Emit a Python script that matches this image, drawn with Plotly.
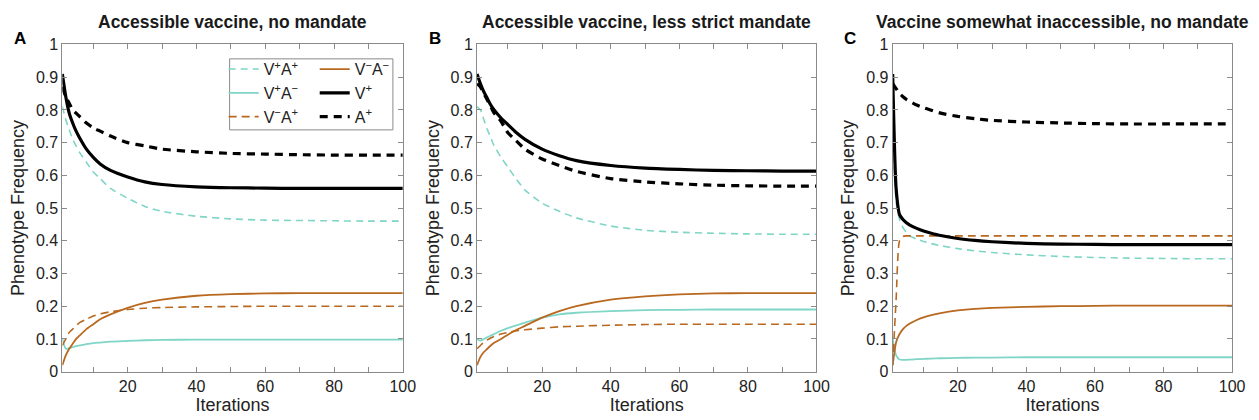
import plotly.graph_objects as go

iters = [1, 2, 3, 4, 5, 6, 8, 10, 12, 15, 20, 25, 30, 40, 50, 60, 70, 80, 90, 100]

# panel A: accessible vaccine, no mandate
a_vpap = [0.81, 0.77, 0.74, 0.71, 0.69, 0.67, 0.64, 0.61, 0.59, 0.56, 0.53, 0.505, 0.49, 0.475, 0.467, 0.463, 0.462, 0.461, 0.46, 0.46]
a_vpam = [0.10, 0.07, 0.072, 0.075, 0.078, 0.08, 0.084, 0.087, 0.089, 0.092, 0.094, 0.096, 0.097, 0.098, 0.098, 0.098, 0.098, 0.098, 0.098, 0.098]
a_vmap = [0.08, 0.10, 0.12, 0.13, 0.14, 0.15, 0.16, 0.17, 0.177, 0.183, 0.19, 0.194, 0.196, 0.198, 0.199, 0.2, 0.2, 0.2, 0.2, 0.2]
a_vmam = [0.02, 0.05, 0.07, 0.085, 0.10, 0.11, 0.13, 0.145, 0.16, 0.175, 0.195, 0.21, 0.22, 0.232, 0.237, 0.239, 0.24, 0.24, 0.24, 0.24]
a_vp = [0.91, 0.84, 0.79, 0.76, 0.735, 0.715, 0.68, 0.655, 0.635, 0.615, 0.595, 0.58, 0.572, 0.565, 0.562, 0.561, 0.56, 0.56, 0.56, 0.56]
a_ap = [0.87, 0.84, 0.82, 0.80, 0.79, 0.78, 0.76, 0.745, 0.735, 0.72, 0.70, 0.69, 0.68, 0.672, 0.667, 0.665, 0.663, 0.662, 0.662, 0.662]

# panel B: accessible vaccine, less strict mandate
b_vpap = [0.81, 0.80, 0.77, 0.74, 0.715, 0.69, 0.655, 0.625, 0.595, 0.555, 0.515, 0.49, 0.47, 0.445, 0.432, 0.426, 0.423, 0.421, 0.42, 0.42]
b_vpam = [0.10, 0.095, 0.10, 0.105, 0.11, 0.115, 0.125, 0.133, 0.14, 0.15, 0.165, 0.175, 0.18, 0.185, 0.188, 0.189, 0.19, 0.19, 0.19, 0.19]
b_vmap = [0.07, 0.08, 0.09, 0.097, 0.103, 0.108, 0.115, 0.12, 0.124, 0.128, 0.133, 0.137, 0.139, 0.142, 0.144, 0.145, 0.145, 0.145, 0.145, 0.145]
b_vmam = [0.02, 0.045, 0.06, 0.07, 0.08, 0.088, 0.10, 0.113, 0.125, 0.14, 0.165, 0.185, 0.2, 0.22, 0.23, 0.236, 0.239, 0.24, 0.24, 0.24]
b_vp = [0.91, 0.88, 0.855, 0.835, 0.815, 0.80, 0.775, 0.755, 0.735, 0.71, 0.68, 0.66, 0.645, 0.63, 0.622, 0.618, 0.615, 0.614, 0.613, 0.613]
b_ap = [0.88, 0.87, 0.85, 0.83, 0.81, 0.79, 0.765, 0.73, 0.71, 0.68, 0.65, 0.63, 0.612, 0.59, 0.58, 0.574, 0.57, 0.568, 0.567, 0.567]

# panel C: vaccine somewhat inaccessible, no mandate
c_vpap = [0.81, 0.52, 0.465, 0.44, 0.425, 0.415, 0.405, 0.398, 0.392, 0.385, 0.376, 0.369, 0.364, 0.357, 0.352, 0.349, 0.347, 0.346, 0.345, 0.345]
c_vpam = [0.10, 0.05, 0.037, 0.036, 0.036, 0.037, 0.038, 0.039, 0.04, 0.041, 0.042, 0.043, 0.043, 0.044, 0.044, 0.044, 0.044, 0.044, 0.044, 0.044]
c_vmap = [0.02, 0.22, 0.40, 0.413, 0.415, 0.415, 0.415, 0.415, 0.415, 0.415, 0.415, 0.415, 0.415, 0.415, 0.415, 0.415, 0.415, 0.415, 0.415, 0.415]
c_vmam = [0.02, 0.09, 0.115, 0.13, 0.14, 0.147, 0.158, 0.166, 0.172, 0.179, 0.187, 0.192, 0.195, 0.198, 0.2, 0.201, 0.202, 0.202, 0.202, 0.202]
c_vp = [0.91, 0.56, 0.48, 0.465, 0.455, 0.448, 0.438, 0.43, 0.424, 0.416, 0.407, 0.401, 0.397, 0.392, 0.39, 0.389, 0.388, 0.388, 0.388, 0.388]
c_ap = [0.88, 0.865, 0.85, 0.84, 0.832, 0.826, 0.815, 0.807, 0.80, 0.79, 0.78, 0.773, 0.768, 0.763, 0.76, 0.758, 0.757, 0.757, 0.757, 0.757]

titles = ['Accessible vaccine, no mandate',
          'Accessible vaccine, less strict mandate',
          'Vaccine somewhat inaccessible, no mandate']
letters = ['A', 'B', 'C']
labels = ['V<sup>+</sup>A<sup>+</sup>', 'V<sup>+</sup>A<sup>\u2212</sup>',
          'V<sup>\u2212</sup>A<sup>+</sup>', 'V<sup>\u2212</sup>A<sup>\u2212</sup>',
          'V<sup>+</sup>', 'A<sup>+</sup>']

TEAL = '#7fd5c6'
BROWN = '#b8681f'
GREY = '#8a8a8a'
FONT = 'Liberation Sans, Arial, Helvetica, sans-serif'
W, H = 1259, 420


def px(x):
    return x / W


def py(y):
    return 1 - y / H


styles = [
    dict(color=TEAL, width=1.6, dash='7px,5px'),
    dict(color=TEAL, width=1.8, dash='solid'),
    dict(color=BROWN, width=1.6, dash='8px,5px'),
    dict(color=BROWN, width=1.8, dash='solid'),
    dict(color='black', width=3.2, dash='solid'),
    dict(color='black', width=3.2, dash='8px,6px'),
]
legend_of = ['legend', 'legend', 'legend', 'legend2', 'legend2', 'legend2']

panels = [
    [a_vpap, a_vpam, a_vmap, a_vmam, a_vp, a_ap],
    [b_vpap, b_vpam, b_vmap, b_vmam, b_vp, b_ap],
    [c_vpap, c_vpam, c_vmap, c_vmam, c_vp, c_ap],
]
domains_px = [(63, 407), (482, 825), (902, 1245)]
y_top, y_bot = 38, 379

fig = go.Figure()
layout = {}
annotations = []
for p, series in enumerate(panels):
    sfx = '' if p == 0 else str(p + 1)
    for k, vals in enumerate(series):
        fig.add_trace(go.Scatter(
            x=iters, y=vals, mode='lines', name=labels[k],
            line=dict(shape='spline', smoothing=0.6, **styles[k]),
            xaxis='x' + sfx, yaxis='y' + sfx,
            showlegend=(p == 0), legend=legend_of[k],
        ))
    x0, x1 = domains_px[p]
    axis_common = dict(showline=True, linecolor=GREY, linewidth=1,
                       mirror='ticks', ticks='inside', ticklen=5,
                       tickcolor=GREY, showgrid=False, zeroline=False,
                       tickfont=dict(size=16, color='#222'))
    layout['xaxis' + sfx] = dict(
        domain=[px(x0), px(x1)], range=[1, 100], anchor='y' + sfx,
        tickvals=[20, 40, 60, 80, 100],
        minor=dict(tickvals=[10, 30, 50, 70, 90], ticks='inside', ticklen=5,
                   tickcolor=GREY, showgrid=False),
        title=dict(text='Iterations', font=dict(size=18, color='#222'), standoff=4),
        **axis_common)
    layout['yaxis' + sfx] = dict(
        domain=[py(y_bot), py(y_top)], range=[0, 1], anchor='x' + sfx,
        tickvals=[i / 10 for i in range(11)],
        ticktext=['0', '0.1', '0.2', '0.3', '0.4', '0.5', '0.6', '0.7', '0.8', '0.9', '1'],
        title=dict(text='Phenotype Frequency', font=dict(size=18, color='#222'), standoff=6),
        **axis_common)
    annotations.append(dict(
        text='<b>%s</b>' % titles[p], x=px((x0 + x1) / 2), y=py(15),
        xref='paper', yref='paper', showarrow=False,
        font=dict(size=17.5, color='#1a1a1a'), xanchor='center', yanchor='middle'))
    annotations.append(dict(
        text='<b>%s</b>' % letters[p], x=px(x0 - 51), y=py(32),
        xref='paper', yref='paper', showarrow=False,
        font=dict(size=17, color='black'), xanchor='left', yanchor='middle'))

leg_style = dict(bgcolor='rgba(0,0,0,0)', borderwidth=0,
                 font=dict(size=16, color='#222', family=FONT),
                 xanchor='left', yanchor='top', tracegroupgap=0, itemwidth=30)

fig.update_layout(
    width=W, height=H,
    margin=dict(l=0, r=0, t=0, b=0),
    plot_bgcolor='white', paper_bgcolor='white',
    font=dict(family=FONT, color='#222'),
    annotations=annotations,
    legend=dict(x=px(226), y=py(46), **leg_style),
    legend2=dict(x=px(318), y=py(46), **leg_style),
    shapes=[dict(type='rect', xref='paper', yref='paper',
                 x0=px(232), x1=px(397), y0=py(127), y1=py(53),
                 line=dict(color=GREY, width=1), fillcolor='rgba(0,0,0,0)')],
    **layout,
)

# drop the default page margin so the figure fills the window exactly
fig.write_html("out.html",
               config={'displayModeBar': False},
               post_script="document.body.style.margin='0';"
                           "document.body.style.overflow='hidden';")
